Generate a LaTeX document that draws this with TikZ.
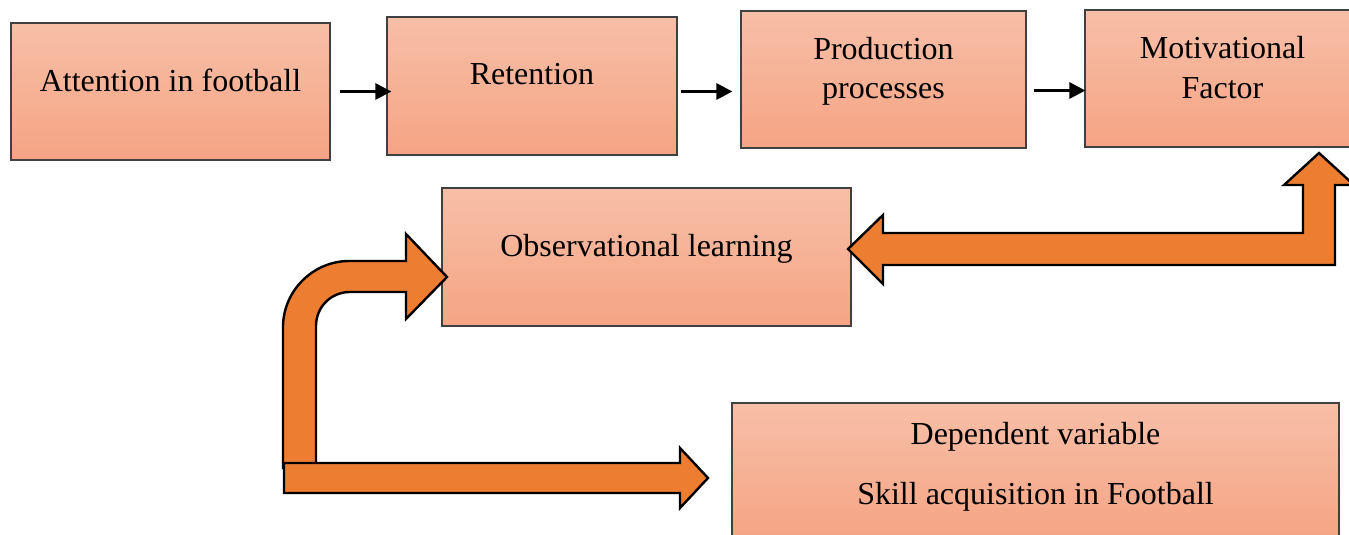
\documentclass[tikz,border=0pt]{standalone}
\usepackage{fontspec}
\setmainfont{Liberation Serif}
\usetikzlibrary{arrows.meta}

\definecolor{boxtop}{HTML}{F7BFA7}
\definecolor{boxbot}{HTML}{F5A484}
\definecolor{bigarrow}{HTML}{ED7D31}

\begin{document}
\begin{tikzpicture}[x=0.5pt, y=-0.5pt,
    box/.style={rectangle, draw=black!75, line width=0.6pt, top color=boxtop, bottom color=boxbot, inner sep=0pt},
    lbl/.style={anchor=base, font=\fontsize{16}{20}\selectfont, align=center},
    flow/.style={line width=1.5pt, -{Triangle[length=8pt, width=8pt]}},
    block/.style={fill=bigarrow, draw=black, line width=1.2pt, line join=miter}]
        \useasboundingbox (0,0) rectangle (1349,535);
        \clip (0,0) rectangle (1349,535);

        % top row
        \node[box, minimum width=159.5pt, minimum height=68.5pt] (att) at (170.5,91.5) {};
        \node[box, minimum width=145pt, minimum height=69pt] (ret) at (532,86) {};
        \node[box, minimum width=142.5pt, minimum height=68.5pt] (prod) at (883.5,79.5) {};
        \node[box, minimum width=137.5pt, minimum height=68.5pt] (mot) at (1222.5,78.5) {};
        % middle and bottom
        \node[box, minimum width=204.5pt, minimum height=69pt] (obs) at (646.5,257) {};
        \node[box, minimum width=303.5pt, minimum height=68.5pt] (dep) at (1035.5,471.5) {};

        % base of a two-line label sits on its last line
        \node[lbl] (att-txt) at (170.5,92) {Attention in football};
        \node[lbl] (ret-txt) at (532,85) {Retention};
        \node[lbl] (prod-txt) at (883.5,99) {Production\\processes};
        \node[lbl] (mot-txt) at (1222.5,98) {Motivational\\Factor};
        \node[lbl] (obs-txt) at (646.5,256) {Observational learning};
        \node[lbl] (dep-txt) at (1035.5,444) {Dependent variable};
        \node[lbl] (skill-txt) at (1035.5,504) {Skill acquisition in Football};

        \coordinate (p-out) at ([xshift=3.5pt,yshift=-5.5pt]prod.east);
        \draw[flow] ([xshift=4.5pt]att.east) -- ([xshift=2.5pt]ret.west |- att.east);
        \draw[flow] ([xshift=1.5pt]ret.east |- att.east) -- ([xshift=-4pt]prod.west |- att.east);
        \draw[flow] (p-out) -- ([xshift=0.5pt]mot.west |- p-out);

        % block arrows
        \draw[block] (283,468) -- (283,327) .. controls (283,291) and (313,261) .. (349,261) -- (406,261)
            -- (406,234) -- (447,277) -- (406,319) -- (406,292) -- (350,292)
            .. controls (331,292) and (316,307) .. (316,326) -- (316,468) -- cycle;
        \draw[block] (284,463) -- (680,463) -- (680,448) -- (708,478) -- (680,508) -- (680,493) -- (284,493) -- cycle;
        \draw[block] (848,249) -- (883,215) -- (883,233) -- (1303,233) -- (1303,185) -- (1284,185) -- (1319,153)
            -- (1354,185) -- (1335,185) -- (1335,265) -- (883,265) -- (883,284) -- cycle;
\end{tikzpicture}
\end{document}
